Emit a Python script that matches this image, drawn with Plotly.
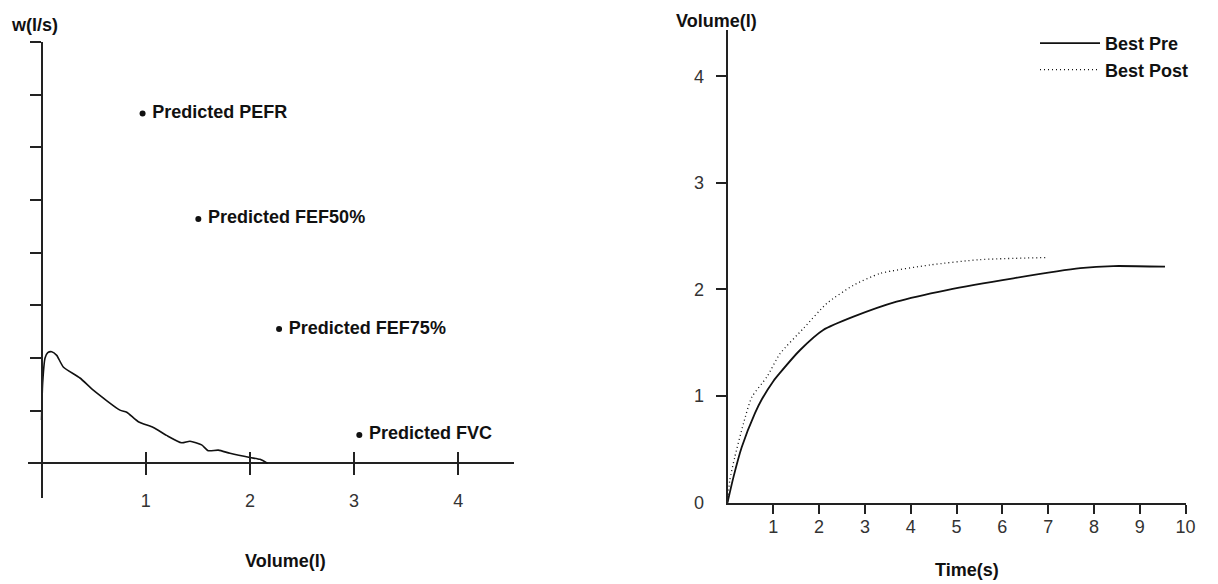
import plotly.graph_objects as go

# page is 1218x584; the HTML body adds an 8px margin, so the figure is 8px smaller
PAGE_OFF = 8
W, H = 1218 - PAGE_OFF, 584 - PAGE_OFF

# ---------------- data: flow-volume loop (left) ----------------
flow_volume = [0.0, 0.011, 0.034, 0.06, 0.098, 0.146, 0.209, 0.369, 0.497, 0.753, 0.818,
               0.929, 1.073, 1.2, 1.345, 1.425, 1.537, 1.6, 1.697, 1.809, 2.0, 2.097, 2.17]
flow_rate = [0.82, 1.52, 2.0, 2.1, 2.12, 2.05, 1.83, 1.62, 1.39, 1.01, 0.97,
             0.79, 0.68, 0.53, 0.39, 0.42, 0.35, 0.24, 0.25, 0.19, 0.11, 0.076, 0.0]

pred_labels = ["Predicted PEFR", "Predicted FEF50%", "Predicted FEF75%", "Predicted FVC"]
pred_volume = [0.97, 1.505, 2.28, 3.05]
pred_flow = [6.64, 4.64, 2.55, 0.54]

fv_xticks = [1, 2, 3, 4]
fv_yticks = [1, 2, 3, 4, 5, 6, 7, 8]

# ---------------- data: volume-time (right) ----------------
pre_time = [0, 0.13, 0.31, 0.6, 0.75, 1.0, 1.15, 1.58, 2.09, 2.75, 3.69, 4.79, 6.24, 7.7, 8.42, 9.55]
pre_vol = [0, 0.24, 0.52, 0.84, 0.97, 1.14, 1.22, 1.43, 1.62, 1.745, 1.886, 1.995, 2.105, 2.2, 2.22, 2.214]

post_time = [0, 0.05, 0.16, 0.35, 0.53, 0.86, 1.15, 1.66, 2.17, 2.75, 3.33, 4.42, 5.51, 7.0]
post_vol = [0, 0.21, 0.43, 0.745, 0.99, 1.18, 1.40, 1.636, 1.87, 2.04, 2.15, 2.23, 2.28, 2.30]

vt_xticks = [1, 2, 3, 4, 5, 6, 7, 8, 9, 10]
vt_yticks = [0, 1, 2, 3, 4]

# ---------------- helpers (page pixel -> paper) ----------------
def fx(p):
    return (p - PAGE_OFF) / W


def fy(p):
    return 1 - (p - PAGE_OFF) / H


FONT = "Liberation Sans"
AX = "#222222"
TICKFONT = dict(family=FONT, size=18, color="#333333")
BOLD = dict(family=FONT, size=18, color="#111111", weight="bold")
NBSP = "\u00a0"

fv_xrange = [-0.1296, 4.5345]
fv_yrange = [-0.664, 8.005]
vt_xrange = [0, 10.002]
vt_yrange = [0, 4.434]

fig = go.Figure()

# left curve
fig.add_trace(go.Scatter(x=flow_volume, y=flow_rate, mode="lines",
                         line=dict(color="#111111", width=1.6, shape="spline", smoothing=0.6),
                         xaxis="x", yaxis="y", showlegend=False, hoverinfo="skip"))
# predicted points
fig.add_trace(go.Scatter(x=pred_volume, y=pred_flow, mode="markers+text",
                         text=[NBSP + t for t in pred_labels], textposition="middle right",
                         textfont=BOLD, marker=dict(color="#111111", size=6),
                         xaxis="x", yaxis="y", showlegend=False, hoverinfo="skip"))
# dummy traces so overlay axes are drawn
fig.add_trace(go.Scatter(x=[None], y=[None], xaxis="x3", yaxis="y", showlegend=False, hoverinfo="skip"))
fig.add_trace(go.Scatter(x=[None], y=[None], xaxis="x", yaxis="y3", showlegend=False, hoverinfo="skip"))

# right curves
fig.add_trace(go.Scatter(x=pre_time, y=pre_vol, mode="lines", name="Best Pre",
                         line=dict(color="#111111", width=1.8, shape="spline", smoothing=0.6),
                         xaxis="x2", yaxis="y2", hoverinfo="skip"))
fig.add_trace(go.Scatter(x=post_time, y=post_vol, mode="lines", name="Best Post",
                         line=dict(color="#111111", width=1.3, dash="1px,3px", shape="spline", smoothing=0.6),
                         xaxis="x2", yaxis="y2", hoverinfo="skip"))
fig.add_trace(go.Scatter(x=[None], y=[None], xaxis="x2", yaxis="y4", showlegend=False, hoverinfo="skip"))

common = dict(showgrid=False, fixedrange=True, automargin=False)

fig.update_layout(
    width=W, height=H, autosize=False,
    margin=dict(l=0, r=0, t=0, b=0, pad=0),
    paper_bgcolor="white", plot_bgcolor="white",
    font=dict(family=FONT, color="#111111"),
    # ---- left ----
    xaxis=dict(domain=[fx(28), fx(514)], range=fv_xrange, anchor="free", position=fy(463.3),
               showline=False, zeroline=False, ticks="outside", ticklen=11, tickwidth=1.5,
               tickcolor=AX, tickvals=fv_xticks, tickfont=TICKFONT, ticklabelstandoff=10, **common),
    xaxis3=dict(overlaying="x", range=fv_xrange, anchor="free", position=fy(463.3),
                showline=False, zeroline=False, ticks="inside", ticklen=11, tickwidth=1.5,
                tickcolor=AX, tickvals=fv_xticks, showticklabels=False, **common),
    yaxis=dict(domain=[fy(498.3), fy(41.7)], range=fv_yrange, anchor="free", position=fx(41.5),
               showline=True, linecolor=AX, linewidth=2, zeroline=True, zerolinecolor=AX,
               zerolinewidth=2, ticks="outside", ticklen=11, tickwidth=1.5, tickcolor=AX,
               tickvals=fv_yticks, showticklabels=False, **common),
    yaxis3=dict(overlaying="y", range=fv_yrange, anchor="free", position=fx(41.5),
                showline=False, zeroline=False, ticks="inside", ticklen=13, tickwidth=1.5,
                tickcolor=AX, tickvals=[fv_yrange[0] + 0.01], showticklabels=False, **common),
    # ---- right ----
    xaxis2=dict(domain=[fx(727.5), fx(1185.7)], range=vt_xrange, anchor="y2",
                showline=True, linecolor=AX, linewidth=2, zeroline=False,
                ticks="outside", ticklen=9, tickwidth=1.5, tickcolor=AX,
                tickvals=vt_xticks, tickfont=TICKFONT, ticklabelstandoff=-2, **common),
    yaxis2=dict(domain=[fy(502.7), fy(30)], range=vt_yrange, anchor="x2",
                showline=True, linecolor=AX, linewidth=2, zeroline=False,
                ticks="", tickvals=vt_yticks, tickfont=TICKFONT, ticklabelstandoff=18, **common),
    yaxis4=dict(overlaying="y2", range=vt_yrange, anchor="x2", side="left",
                showline=False, zeroline=False, ticks="outside", ticklen=11, tickwidth=1.5,
                tickcolor=AX, tickvals=vt_yticks[1:], showticklabels=False, **common),
    legend=dict(x=fx(1035), y=fy(25), xanchor="left", yanchor="top",
                font=BOLD, itemwidth=60, bgcolor="rgba(0,0,0,0)", tracegroupgap=0),
    annotations=[
        dict(text="w(l/s)", x=fx(34.5), y=fy(25), xref="paper", yref="paper",
             xanchor="center", yanchor="middle", showarrow=False, font=BOLD),
        dict(text="Volume(l)", x=fx(285), y=fy(561), xref="paper", yref="paper",
             xanchor="center", yanchor="middle", showarrow=False, font=BOLD),
        dict(text="Volume(l)", x=fx(716.5), y=fy(9), xref="paper", yref="paper",
             xanchor="center", yanchor="top", showarrow=False, font=BOLD),
        dict(text="Time(s)", x=fx(966.7), y=fy(570), xref="paper", yref="paper",
             xanchor="center", yanchor="middle", showarrow=False, font=BOLD),
    ],
)

fig.write_html("out.html")
